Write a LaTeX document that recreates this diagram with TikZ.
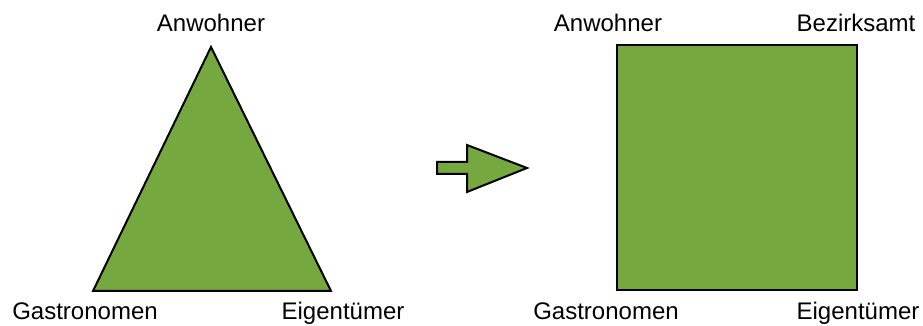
\documentclass[tikz,border=0pt]{standalone}
\usepackage{fontspec}
\setmainfont{Liberation Sans}
\usepackage{xcolor}
\definecolor{leafgreen}{RGB}{118,168,64}

\begin{document}
\begin{tikzpicture}[x=0.5pt,y=-0.5pt]
    % Define styles
    \tikzset{
        greenshape/.style={draw=black, fill=leafgreen, line width=1pt, line join=miter},
        partytext/.style={anchor=base, inner sep=0pt, font=\fontsize{12}{14}\selectfont}
    }
    \useasboundingbox (0,0) rectangle (923,326);

    % Triangle corners
    \coordinate (tri_top) at (211,47);
    \coordinate (tri_left) at (93,291);
    \coordinate (tri_right) at (331,291);

    % Square corners
    \coordinate (sq_nw) at (617,45);
    \coordinate (sq_se) at (857,290);

    % Shapes
    \draw[greenshape] (tri_top) -- (tri_left) -- (tri_right) -- cycle;
    \draw[greenshape] (sq_nw) rectangle (sq_se);
    \draw[greenshape] (437,162) -- (467,162) -- (467,145) -- (527,168)
        -- (467,192) -- (467,174) -- (437,174) -- cycle;

    % Labels
    \node[partytext] (tri_resident) at (211,32) {Anwohner};
    \node[partytext] (tri_gastro) at (85,320) {Gastronomen};
    \node[partytext] (tri_owner) at (343,320) {Eigentümer};
    \node[partytext] (sq_resident) at (608,32) {Anwohner};
    \node[partytext] (sq_office) at (856,32) {Bezirksamt};
    \node[partytext] (sq_gastro) at (606,320) {Gastronomen};
    \node[partytext] (sq_owner) at (858,320) {Eigentümer};
\end{tikzpicture}
\end{document}
